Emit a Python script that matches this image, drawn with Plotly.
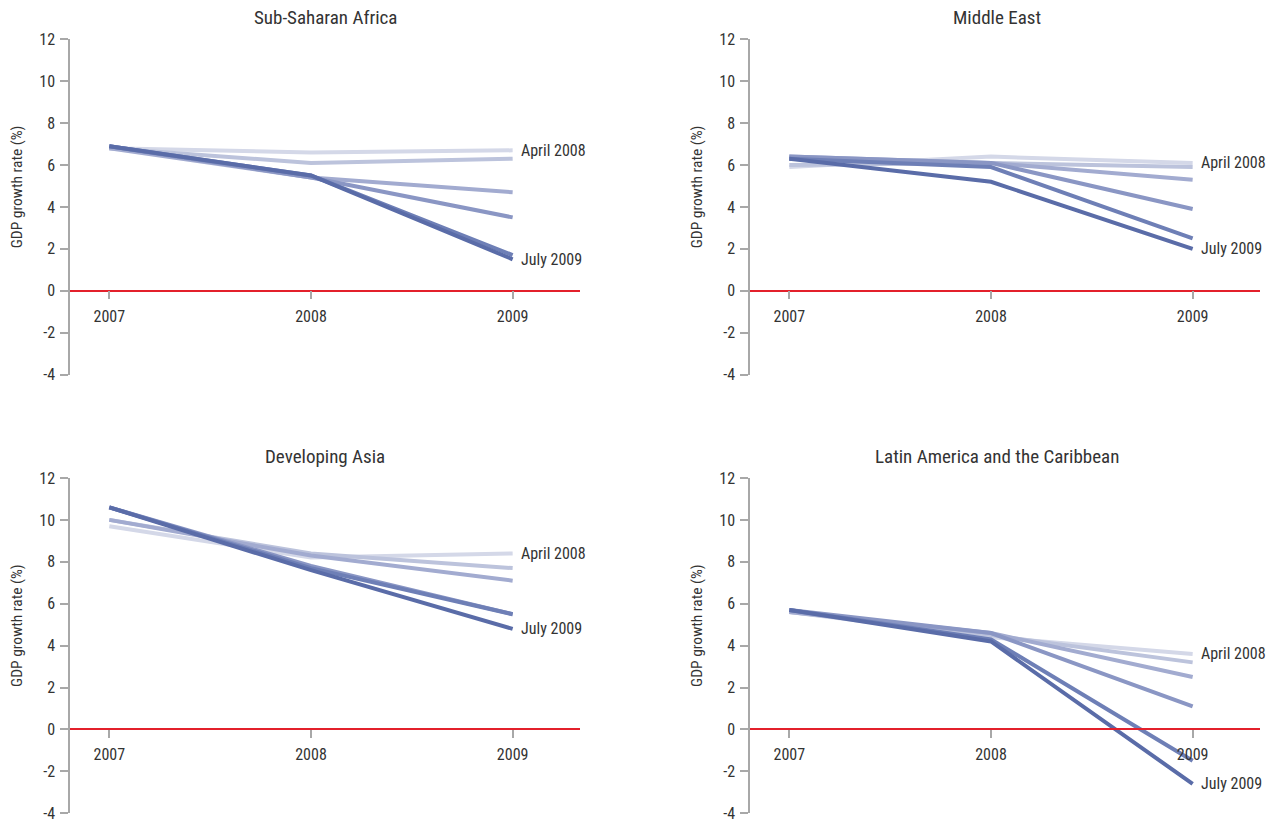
import plotly.graph_objects as go

# Forecast vintages (lightest = oldest, darkest = newest)
vintages = ["April 2008", "July 2008", "October 2008", "January 2009", "April 2009", "July 2009"]
vintage_colors = ["#d4d8e8", "#bcc3dc", "#a2abd0", "#8a96c4", "#6e7fb6", "#5a6ca8"]
years = [2007, 2008, 2009]

regions = ["Sub-Saharan Africa", "Middle East", "Developing Asia", "Latin America and the Caribbean"]

# GDP growth (%) for 2007, 2008, 2009, one list per vintage
ssa = [
    [6.8, 6.6, 6.7],
    [6.8, 6.1, 6.3],
    [6.8, 5.4, 4.7],
    [6.9, 5.4, 3.5],
    [6.9, 5.5, 1.7],
    [6.9, 5.5, 1.5],
]
middle_east = [
    [5.9, 6.4, 6.1],
    [6.0, 6.1, 5.9],
    [6.4, 6.1, 5.3],
    [6.4, 6.1, 3.9],
    [6.3, 5.9, 2.5],
    [6.3, 5.2, 2.0],
]
dev_asia = [
    [9.7, 8.2, 8.4],
    [10.0, 8.4, 7.7],
    [10.0, 8.3, 7.1],
    [10.6, 7.8, 5.5],
    [10.6, 7.7, 5.5],
    [10.6, 7.6, 4.8],
]
latam = [
    [5.6, 4.4, 3.6],
    [5.6, 4.5, 3.2],
    [5.6, 4.6, 2.5],
    [5.7, 4.6, 1.1],
    [5.7, 4.3, -1.5],
    [5.7, 4.2, -2.6],
]
region_values = [ssa, middle_east, dev_asia, latam]

y_ticks = [-4, -2, 0, 2, 4, 6, 8, 10, 12]
y_ticktext = ["-4", "-2", "0", "2", "4", "6", "8", "10", "12"]
y_range = [-4, 12]
x_range = [2006.805, 2009.334]

FONT = "Roboto Condensed, Liberation Sans Narrow, DejaVu Sans Condensed, sans-serif"
TEXT = "#333333"
AXIS_GREY = "#a8a8a8"
ZERO_RED = "#e3202b"

W, H = 1272, 823
# plot-area boxes in pixels: (left, right, top, bottom, title centre)
boxes = [
    (70, 580, 39.3, 374.5, 325),
    (750, 1260, 39.3, 374.5, 997),
    (70, 580, 478.0, 813.2, 325),
    (750, 1260, 478.0, 813.2, 997),
]

fig = go.Figure()
layout = dict(
    width=W, height=H,
    margin=dict(l=0, r=0, t=0, b=0, pad=0),
    paper_bgcolor="white", plot_bgcolor="white",
    showlegend=False,
    font=dict(family=FONT, color=TEXT, size=16),
)
annotations = []

for i, (name, vals) in enumerate(zip(regions, region_values)):
    k = "" if i == 0 else str(i + 1)
    xa, ya = "x" + k, "y" + k
    left, right, top, bottom, title_x = boxes[i]
    xd = [left / W, right / W]
    yd = [1 - bottom / H, 1 - top / H]
    zero_pos = yd[0] + (0 - y_range[0]) / (y_range[1] - y_range[0]) * (yd[1] - yd[0])

    for v, color, series in zip(vintages, vintage_colors, vals):
        fig.add_trace(go.Scatter(
            x=years, y=series, mode="lines", name=v,
            line=dict(color=color, width=4),
            xaxis=xa, yaxis=ya, hoverinfo="skip",
        ))

    layout["xaxis" + k] = dict(
        domain=xd, range=x_range, anchor="free", position=zero_pos,
        tickvals=years, ticktext=[str(y) for y in years],
        ticks="outside", ticklen=8, tickcolor=AXIS_GREY, tickwidth=1.5,
        showline=True, linecolor=ZERO_RED, linewidth=1.5,
        showgrid=False, zeroline=False, fixedrange=True, automargin=False,
        tickfont=dict(size=16, color=TEXT, family=FONT),
        ticklabelstandoff=3,
    )
    layout["yaxis" + k] = dict(
        domain=yd, range=y_range, anchor=xa,
        tickvals=y_ticks, ticktext=y_ticktext,
        ticks="outside", ticklen=8, tickcolor=AXIS_GREY, tickwidth=1.5,
        showline=True, linecolor=AXIS_GREY, linewidth=1.5,
        showgrid=False, zeroline=False, fixedrange=True, automargin=False,
        tickfont=dict(size=16, color=TEXT, family=FONT),
        ticklabelstandoff=2,
    )

    # panel title
    annotations.append(dict(
        text=name, xref="paper", yref="paper",
        x=title_x / W, y=1 - (top - 22) / H,
        xanchor="center", yanchor="middle", showarrow=False,
        font=dict(size=19, color=TEXT, family=FONT),
    ))
    # y-axis title
    annotations.append(dict(
        text="GDP growth rate (%)", xref="paper", yref="paper",
        x=(left - 53) / W, y=1 - (top + 148) / H, textangle=-90,
        xanchor="center", yanchor="middle", showarrow=False,
        font=dict(size=15.5, color=TEXT, family=FONT),
    ))
    # end labels for the oldest and newest vintage
    for idx in (0, len(vintages) - 1):
        annotations.append(dict(
            text=vintages[idx], xref=xa, yref=ya,
            x=years[-1], y=vals[idx][-1],
            xanchor="left", yanchor="middle", xshift=6, showarrow=False,
            font=dict(size=16, color=TEXT, family=FONT),
        ))

layout["annotations"] = annotations
fig.update_layout(**layout)
fig.write_html("out.html")
